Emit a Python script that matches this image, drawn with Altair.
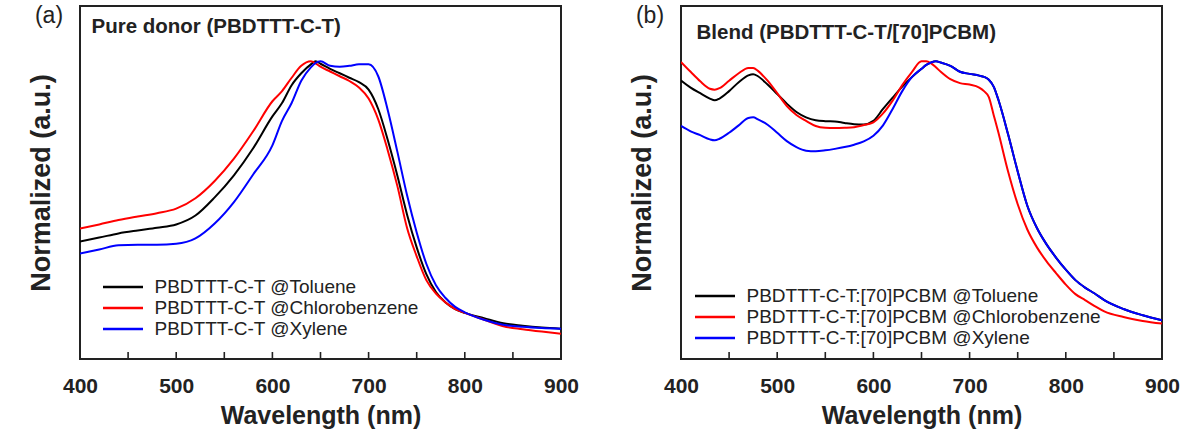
import altair as alt
import pandas as pd

FONT = "Liberation Sans"
INK = "#222222"
COLORS = ["#000000", "#ff0000", "#0000ff"]

# ---------------- (a) pure donor films ----------------
wl_a = [400, 420, 440, 460, 480, 500, 520, 540, 560, 580, 600, 610, 620, 630,
        640, 645, 650, 660, 670, 680, 690, 700, 710, 720, 730, 740, 750, 760,
        770, 780, 790, 800, 820, 840, 860, 880, 900]
toluene_a = [0.395, 0.408, 0.422, 0.432, 0.441, 0.452, 0.482, 0.543, 0.617, 0.708,
             0.815, 0.860, 0.920, 0.960, 0.990, 1.000, 0.992, 0.975, 0.960, 0.945,
             0.930, 0.905, 0.840, 0.735, 0.615, 0.485, 0.375, 0.285, 0.225, 0.190,
             0.168, 0.155, 0.137, 0.120, 0.112, 0.106, 0.102]
chlorobenzene_a = [0.438, 0.452, 0.467, 0.479, 0.490, 0.505, 0.540, 0.598, 0.673, 0.765,
                   0.866, 0.900, 0.945, 0.985, 1.000, 0.993, 0.982, 0.966, 0.950, 0.934,
                   0.912, 0.875, 0.805, 0.700, 0.580, 0.440, 0.345, 0.265, 0.220, 0.190,
                   0.168, 0.155, 0.132, 0.110, 0.100, 0.092, 0.085]
xylene_a = [0.354, 0.368, 0.382, 0.384, 0.384, 0.387, 0.405, 0.455, 0.527, 0.620,
            0.718, 0.800, 0.860, 0.935, 0.980, 0.995, 1.000, 0.985, 0.982, 0.985,
            0.990, 0.990, 0.950, 0.835, 0.695, 0.550, 0.425, 0.320, 0.248, 0.205,
            0.175, 0.157, 0.132, 0.115, 0.108, 0.104, 0.102]
names_a = ["PBDTTT-C-T @Toluene", "PBDTTT-C-T @Chlorobenzene", "PBDTTT-C-T @Xylene"]

# ---------------- (b) donor/acceptor blend films ----------------
wl_b = [400, 410, 420, 430, 435, 440, 450, 460, 470, 475,
        480, 490, 500, 510, 520, 530, 540, 550, 560, 570,
        580, 590, 600, 610, 620, 630, 640, 650, 655, 660,
        665, 670, 680, 690, 700, 710, 715, 720, 725, 730,
        740, 750, 760, 770, 780, 790, 800, 810, 820, 830,
        840, 860, 880, 900]
toluene_b = [0.936, 0.912, 0.893, 0.875, 0.869, 0.875, 0.900, 0.930, 0.953, 0.957,
             0.950, 0.922, 0.890, 0.858, 0.830, 0.812, 0.802, 0.799, 0.798, 0.793,
             0.789, 0.788, 0.800, 0.840, 0.878, 0.915, 0.947, 0.975, 0.988, 0.996,
             1.000, 0.996, 0.985, 0.965, 0.958, 0.952, 0.948, 0.938, 0.915, 0.870,
             0.755, 0.630, 0.515, 0.440, 0.385, 0.340, 0.300, 0.265, 0.240, 0.220,
             0.198, 0.168, 0.147, 0.130]
chlorobenzene_b = [0.998, 0.965, 0.933, 0.908, 0.905, 0.910, 0.935, 0.960, 0.978, 0.978,
                   0.968, 0.935, 0.893, 0.850, 0.820, 0.800, 0.783, 0.777, 0.776, 0.777,
                   0.779, 0.786, 0.795, 0.825, 0.868, 0.920, 0.964, 1.000, 1.000, 0.993,
                   0.980, 0.965, 0.940, 0.927, 0.922, 0.912, 0.900, 0.880, 0.820, 0.760,
                   0.630, 0.520, 0.435, 0.375, 0.328, 0.288, 0.250, 0.218, 0.198, 0.178,
                   0.160, 0.141, 0.128, 0.119]
xylene_b = [0.783, 0.765, 0.752, 0.738, 0.735, 0.740, 0.760, 0.785, 0.810, 0.812,
            0.805, 0.787, 0.760, 0.732, 0.712, 0.700, 0.698, 0.701, 0.706, 0.712,
            0.720, 0.731, 0.750, 0.785, 0.840, 0.900, 0.947, 0.975, 0.988, 0.996,
            1.000, 0.996, 0.985, 0.965, 0.958, 0.952, 0.948, 0.938, 0.915, 0.870,
            0.755, 0.630, 0.515, 0.440, 0.385, 0.340, 0.300, 0.265, 0.240, 0.220,
            0.198, 0.168, 0.147, 0.130]
names_b = ["PBDTTT-C-T:[70]PCBM @Toluene", "PBDTTT-C-T:[70]PCBM @Chlorobenzene",
           "PBDTTT-C-T:[70]PCBM @Xylene"]

label_ticks = [400, 500, 600, 700, 800, 900]
minor_ticks = [450, 500, 550, 600, 650, 700, 750, 800, 850]

W, H = 481, 353
Y_MAX = 1.186

x_enc = alt.X(
    "wavelength:Q",
    scale=alt.Scale(domain=[400, 900], nice=False, zero=False),
    axis=alt.Axis(values=label_ticks, title="Wavelength (nm)", ticks=False,
                  domain=False, grid=False, labelFlush=False, labelOverlap=False,
                  labelPadding=16, titlePadding=7),
)
y_enc = alt.Y(
    "absorbance:Q",
    scale=alt.Scale(domain=[0, Y_MAX], nice=False, zero=False),
    axis=alt.Axis(title="Normalized (a.u.)", labels=False, ticks=False,
                  domain=False, grid=False, titlePadding=25, titleFontSize=27),
)


def panel(wl, series, names, tag, heading, heading_xy, legend_xy):
    layers = []
    # spectra, drawn black -> red -> blue
    for name, ys, col in zip(names, series, COLORS):
        df = pd.DataFrame({"wavelength": wl, "absorbance": ys, "sample": name})
        layers.append(
            alt.Chart(df)
            .mark_line(color=col, strokeWidth=2, interpolate="monotone", clip=True)
            .encode(x=x_enc, y=y_enc)
        )
    # inward tick marks on the bottom edge
    tick_df = pd.DataFrame({"wavelength": minor_ticks})
    layers.append(
        alt.Chart(tick_df)
        .mark_rule(color=INK, strokeWidth=1.6)
        .encode(x=x_enc, y=alt.value(H - 7), y2=alt.value(H))
    )
    # legend rows
    lx, ly = legend_xy
    for i, (name, col) in enumerate(zip(names, COLORS)):
        row = pd.DataFrame({"sample": [name]})
        layers.append(
            alt.Chart(row)
            .mark_rule(color=col, strokeWidth=2.5)
            .encode(x=alt.value(lx), x2=alt.value(lx + 40), y=alt.value(ly + 21 * i))
        )
        layers.append(
            alt.Chart(row)
            .mark_text(align="left", baseline="middle", font=FONT, fontSize=19, color=INK)
            .encode(x=alt.value(lx + 51.5), y=alt.value(ly + 21 * i), text="sample:N")
        )
    # panel letter and heading
    layers.append(
        alt.Chart(pd.DataFrame({"t": [tag]}))
        .mark_text(align="center", baseline="middle", font=FONT, fontSize=23, color=INK)
        .encode(x=alt.value(-31), y=alt.value(10), text="t:N")
    )
    hx, hy = heading_xy
    layers.append(
        alt.Chart(pd.DataFrame({"t": [heading]}))
        .mark_text(align="left", baseline="middle", font=FONT, fontSize=20.5,
                   fontWeight="bold", color=INK)
        .encode(x=alt.value(hx), y=alt.value(hy), text="t:N")
    )
    return alt.layer(*layers).properties(width=W, height=H)


panel_a = panel(wl_a, [toluene_a, chlorobenzene_a, xylene_a], names_a, "(a)",
                "Pure donor (PBDTTT-C-T)", (11.5, 21), (23, 281))
panel_b = panel(wl_b, [toluene_b, chlorobenzene_b, xylene_b], names_b, "(b)",
                "Blend (PBDTTT-C-T/[70]PCBM)", (15.5, 27), (14, 290))

chart = (
    alt.hconcat(panel_a, panel_b, spacing=120, bounds="flush")
    .properties(padding={"left": 26, "top": 4, "right": 10, "bottom": 5},
                background="white")
    .configure_view(stroke=INK, strokeWidth=2)
    .configure_axis(labelFont=FONT, titleFont=FONT, labelFontWeight="bold",
                    titleFontWeight="bold", labelColor=INK, titleColor=INK,
                    labelFontSize=21, titleFontSize=25)
)

chart.save("out.html", embed_options={"renderer": "svg", "actions": False})
